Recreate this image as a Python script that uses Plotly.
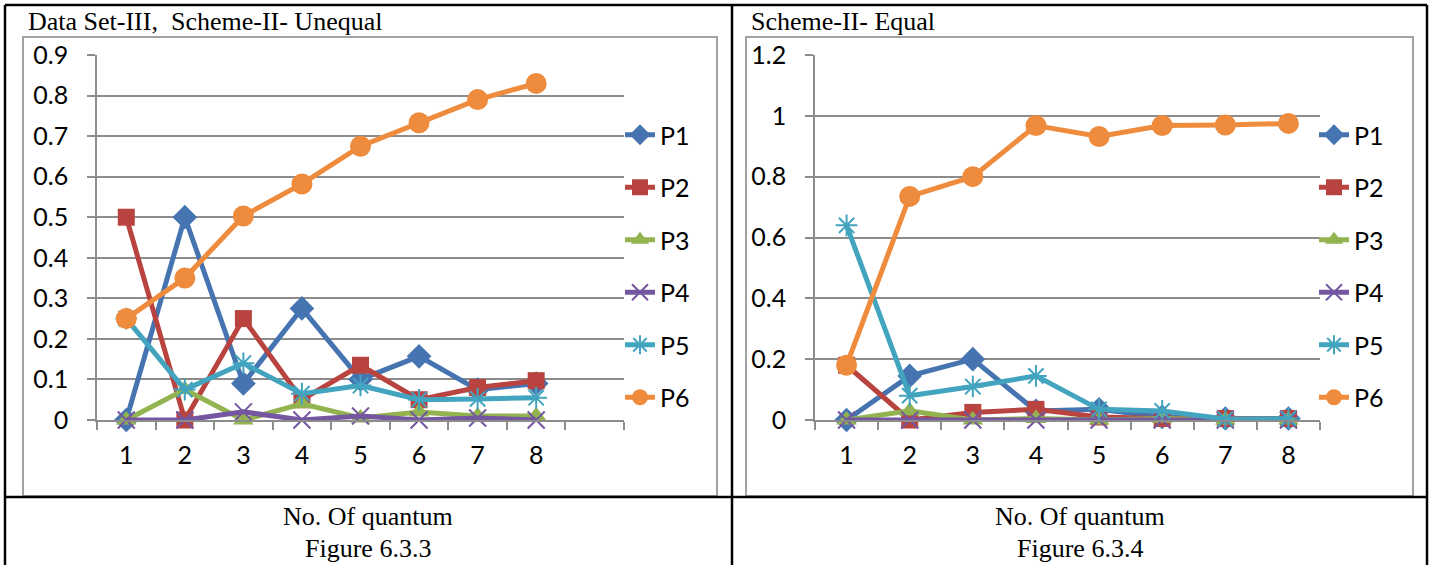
import plotly.graph_objects as go

# ---------------- data ----------------
quantum = [1, 2, 3, 4, 5, 6, 7, 8]
series_names = ["P1", "P2", "P3", "P4", "P5", "P6"]

# Figure 6.3.3  (Data Set-III, Scheme-II- Unequal)
u_P1 = [0.0, 0.50, 0.09, 0.275, 0.10, 0.157, 0.075, 0.09]
u_P2 = [0.50, 0.0, 0.25, 0.05, 0.135, 0.05, 0.08, 0.097]
u_P3 = [0.0, 0.075, 0.0, 0.04, 0.005, 0.02, 0.01, 0.01]
u_P4 = [0.0, 0.0, 0.02, 0.0, 0.01, 0.0, 0.005, 0.0]
u_P5 = [0.25, 0.075, 0.14, 0.065, 0.085, 0.05, 0.052, 0.055]
u_P6 = [0.25, 0.35, 0.503, 0.582, 0.675, 0.733, 0.79, 0.83]

# Figure 6.3.4  (Scheme-II- Equal)
e_P1 = [0.0, 0.145, 0.20, 0.03, 0.035, 0.01, 0.005, 0.005]
e_P2 = [0.18, 0.0, 0.025, 0.035, 0.01, 0.005, 0.005, 0.005]
e_P3 = [0.0, 0.03, 0.0, 0.005, 0.0, 0.005, 0.0, 0.0]
e_P4 = [0.0, 0.0, 0.0, 0.0, 0.0, 0.0, 0.0, 0.0]
e_P5 = [0.64, 0.08, 0.11, 0.145, 0.035, 0.03, 0.003, 0.005]
e_P6 = [0.18, 0.735, 0.80, 0.968, 0.932, 0.968, 0.97, 0.975]

x_tick_labels = ["1", "2", "3", "4", "5", "6", "7", "8"]

# ---------------- styles ----------------
W, H = 1434, 565
colors = ["#4674B0", "#B8433F", "#92B350", "#7457A0", "#42A4BF", "#EE8B3C"]
symbols = ["diamond", "square", "triangle-up", "x-thin-open", "asterisk-open", "circle"]
msizes = [19, 17, 18, 17, 18, 21]
GRID = "#8C8C8C"
FRAME = "#A2A2A2"
TICKFONT = dict(family="Lato, Carlito, Calibri, sans-serif", size=25, color="black")
SERIF = dict(family="Liberation Serif, Times New Roman, serif", size=26, color="black")


def px(x):
    return x / W


def py(y):
    return 1 - y / H


fig = go.Figure()

left_data = [u_P1, u_P2, u_P3, u_P4, u_P5, u_P6]
right_data = [e_P1, e_P2, e_P3, e_P4, e_P5, e_P6]

for side, data, xa, ya, leg in [("L", left_data, "x", "y", "legend"),
                                 ("R", right_data, "x2", "y2", "legend2")]:
    for i, (name, vals) in enumerate(zip(series_names, data)):
        open_sym = symbols[i].endswith("open")
        fig.add_trace(go.Scatter(
            x=quantum, y=vals, name=name, mode="lines+markers",
            xaxis=xa, yaxis=ya, legend=leg, legendgroup=side + name,
            line=dict(color=colors[i], width=5),
            marker=dict(symbol=symbols[i], size=msizes[i], color=colors[i],
                        line=dict(color=colors[i], width=2 if open_sym else 0)),
            cliponaxis=False,
        ))

axis_common_x = dict(
    showgrid=False, showline=True, linecolor=GRID, linewidth=1.5,
    ticks="", tickvals=quantum, ticktext=x_tick_labels, tickfont=TICKFONT,
    zeroline=False, ticklabelstandoff=12, automargin=False,
    minor=dict(ticks="outside", ticklen=8, tickcolor=GRID, tickwidth=1.5,
               tick0=0.5, dtick=1, showgrid=False),
)
axis_common_y = dict(
    showgrid=True, gridcolor=GRID, gridwidth=1.5, showline=True,
    linecolor=GRID, linewidth=1.5, ticks="outside", ticklen=8,
    tickcolor=GRID, tickwidth=1.5, tickfont=TICKFONT, zeroline=False,
    ticklabelstandoff=14, automargin=False,
)

ydom = [py(420), py(55)]
fig.update_layout(
    width=W, height=H, autosize=False, margin=dict(l=0, r=0, t=0, b=0, pad=0),
    paper_bgcolor="white", plot_bgcolor="white",
    xaxis=dict(domain=[px(97), px(624)], range=[0.5, 9.5], anchor="y", **axis_common_x),
    yaxis=dict(domain=ydom, range=[0, 0.9], dtick=0.1, anchor="x", **axis_common_y),
    xaxis2=dict(domain=[px(815), px(1320)], range=[0.5, 8.5], anchor="y2", **axis_common_x),
    yaxis2=dict(domain=ydom, range=[0, 1.2], dtick=0.2, anchor="x2", **axis_common_y),
    legend=dict(x=px(620), xanchor="left", y=py(112), yanchor="top",
                font=TICKFONT, bgcolor="rgba(0,0,0,0)", tracegroupgap=17,
                traceorder="grouped"),
    legend2=dict(x=px(1314), xanchor="left", y=py(112), yanchor="top",
                 font=TICKFONT, bgcolor="rgba(0,0,0,0)", tracegroupgap=17,
                 traceorder="grouped"),
    showlegend=True,
)

shapes = []
# table borders
for (x0, y0, x1, y1) in [(5, 5, 1427, 5), (5, 497, 1427, 497), (5, 5, 5, 565),
                         (732, 5, 732, 565), (1427, 5, 1427, 565)]:
    shapes.append(dict(type="line", xref="paper", yref="paper",
                       x0=px(x0), y0=py(y0), x1=px(x1), y1=py(y1),
                       line=dict(color="black", width=2.5)))
# chart frames
for (x0, y0, x1, y1) in [(23, 37, 717, 496), (746, 37, 1413, 496)]:
    shapes.append(dict(type="rect", xref="paper", yref="paper",
                       x0=px(x0), y0=py(y0), x1=px(x1), y1=py(y1),
                       line=dict(color=FRAME, width=2), layer="below"))
fig.update_layout(shapes=shapes)

annotations = [
    dict(text="Data Set-III,  Scheme-II- Unequal", x=px(26), y=py(21),
         xanchor="left", yanchor="middle"),
    dict(text="Scheme-II- Equal", x=px(749), y=py(21),
         xanchor="left", yanchor="middle"),
    dict(text="No. Of quantum", x=px(368), y=py(516), xanchor="center", yanchor="middle"),
    dict(text="Figure 6.3.3", x=px(368), y=py(548), xanchor="center", yanchor="middle"),
    dict(text="No. Of quantum", x=px(1080), y=py(516), xanchor="center", yanchor="middle"),
    dict(text="Figure 6.3.4", x=px(1080), y=py(548), xanchor="center", yanchor="middle"),
]
for a in annotations:
    a.update(xref="paper", yref="paper", showarrow=False, font=SERIF)
fig.update_layout(annotations=annotations)

fig.write_html("out.html")
